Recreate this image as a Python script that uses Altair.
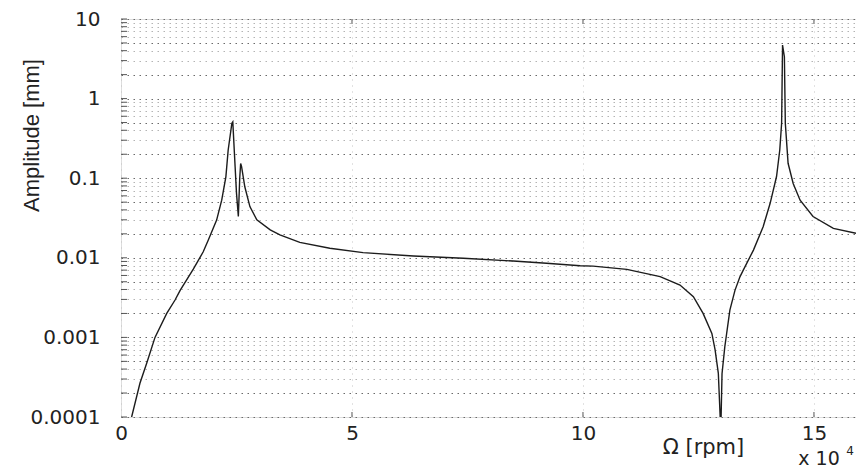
import altair as alt
import pandas as pd

# Omega in units of 10^4 rpm, amplitude in mm
omega = [0.23, 0.41, 0.556, 0.736, 0.99, 1.17, 1.28, 1.565, 1.78, 1.89,
         2.07, 2.18, 2.27, 2.32, 2.40, 2.42, 2.47, 2.50, 2.54, 2.57,
         2.59, 2.61, 2.68, 2.79, 2.94, 3.23, 3.44, 3.87, 4.52, 5.24,
         6.33, 7.41, 8.49, 9.21, 9.94, 10.22, 10.95, 11.67, 12.10, 12.39,
         12.60, 12.79, 12.86, 12.93, 12.97, 12.99, 13.01, 13.07, 13.11, 13.18,
         13.29, 13.40, 13.47, 13.69, 13.90, 14.05, 14.19, 14.26, 14.30, 14.32,
         14.36, 14.38, 14.44, 14.55, 14.70, 14.98, 15.42, 15.91]
amplitude = [0.0001, 0.000265, 0.000473, 0.001, 0.002, 0.00295, 0.0039, 0.0072, 0.0119, 0.0167,
             0.0298, 0.053, 0.104, 0.226, 0.49, 0.51, 0.14, 0.065, 0.033, 0.10,
             0.153, 0.14, 0.078, 0.044, 0.030, 0.0224, 0.0194, 0.0156, 0.0132, 0.0116,
             0.01054, 0.00986, 0.0091, 0.00853, 0.00795, 0.00785, 0.00716, 0.0058, 0.00455, 0.00324,
             0.002, 0.00112, 0.000695, 0.000354, 0.0001, 0.0001, 0.00035, 0.00076, 0.00112, 0.0022,
             0.0039, 0.0058, 0.007, 0.0125, 0.0246, 0.048, 0.105, 0.226, 0.49, 4.71,
             3.36, 0.49, 0.154, 0.086, 0.053, 0.033, 0.0234, 0.0203]

y_major = [0.0001, 0.001, 0.01, 0.1, 1, 10]
y_grid = [0.0001, 0.0002, 0.0003, 0.0004, 0.0005, 0.0006, 0.0007, 0.0008, 0.0009,
          0.001, 0.002, 0.003, 0.004, 0.005, 0.006, 0.007, 0.008, 0.009,
          0.01, 0.02, 0.03, 0.04, 0.05, 0.06, 0.07, 0.08, 0.09,
          0.1, 0.2, 0.3, 0.4, 0.5, 0.6, 0.7, 0.8, 0.9,
          1, 2, 3, 4, 5, 6, 7, 8, 9, 10]
x_ticks = [0, 5, 10, 15]
x_inner = [5, 10, 15]

W, H = 735, 398
XDOM = [0, 15.91]
YDOM = [0.0001, 10]
FONT = "DejaVu Sans"

curve = pd.DataFrame({"omega": omega, "amp": amplitude, "i": range(len(omega))})
ygrid_df = pd.DataFrame({"amp": y_grid})
xt_df = pd.DataFrame({"omega": x_inner})

xscale = alt.Scale(domain=XDOM, nice=False, zero=False)
yscale = alt.Scale(type="log", domain=YDOM, nice=False)

major_test = "indexof([0.0001,0.001,0.01,0.1,1,10], datum.value) >= 0"
mid_test = "indexof([0.0002,0.0005,0.002,0.005,0.02,0.05,0.2,0.5,2,5], datum.value) >= 0"

xaxis = alt.Axis(values=x_ticks, title="Ω [rpm]", ticks=False, tickSize=0,
                 labelFont=FONT, labelFontSize=20, labelColor="#222",
                 labelPadding=6, labelFlush=False,
                 domain=False,
                 grid=True, gridColor="#c4c4c4", gridDash=[1, 5],
                 titleFont=FONT, titleFontSize=21, titleFontWeight="normal",
                 titleColor="#222", titleX=582, titleY=30,
                 titleAlign="center", titleBaseline="middle")
yaxis = alt.Axis(values=y_grid, title="Amplitude [mm]", ticks=False, tickSize=0,
                 labelExpr=major_test + " ? format(datum.value, '~g') : ''",
                 labelFont=FONT, labelFontSize=20, labelColor="#222",
                 labelPadding=21, labelFlush=False, labelOverlap=False,
                 domain=False,
                 grid=True,
                 gridColor={"condition": {"test": major_test + " || " + mid_test,
                                          "value": "#6a6a6a"},
                            "value": "#b4b4b4"},
                 gridDash=[1.5, 4.5],
                 titleFont="Liberation Sans", titleFontSize=22,
                 titleFontWeight="normal", titleColor="#222",
                 titleX=-90, titleY=116, titleAngle=270,
                 titleAlign="center", titleBaseline="middle")

X = alt.X("omega:Q", scale=xscale, axis=xaxis)
Y = alt.Y("amp:Q", scale=yscale, axis=yaxis)

line = alt.Chart(curve).mark_line(color="#1c1c1c", strokeWidth=1.4, clip=True).encode(
    x=X, y=Y, order="i:Q",
)

yticks = alt.Chart(ygrid_df).mark_rule(color="#555", strokeWidth=1).encode(
    y=Y, x=alt.value(0), x2=alt.value(6),
)

xticks_bottom = alt.Chart(xt_df).mark_rule(color="#555", strokeWidth=1).encode(
    x=X, y=alt.value(H), y2=alt.value(H - 5),
)
xticks_top = alt.Chart(xt_df).mark_rule(color="#555", strokeWidth=1).encode(
    x=X, y=alt.value(0), y2=alt.value(5),
)

mult = alt.Chart(pd.DataFrame({"t": ["x 10"]})).mark_text(
    font=FONT, fontSize=19, color="#222", align="center", baseline="middle"
).encode(x=alt.value(698), y=alt.value(440), text="t:N")
expo = alt.Chart(pd.DataFrame({"t": ["4"]})).mark_text(
    font=FONT, fontSize=12, color="#222", align="center", baseline="middle"
).encode(x=alt.value(729), y=alt.value(432), text="t:N")

chart = alt.layer(line, yticks, xticks_bottom, xticks_top, mult, expo).properties(
    width=W, height=H,
    autosize=alt.AutoSizeParams(type="none"),
    padding={"left": 121, "top": 19, "right": 0, "bottom": 53},
).configure_view(stroke="#9fb0bc", strokeWidth=1.2).configure(background="white")

chart.save("out.html", embed_options={"renderer": "svg", "actions": False})
